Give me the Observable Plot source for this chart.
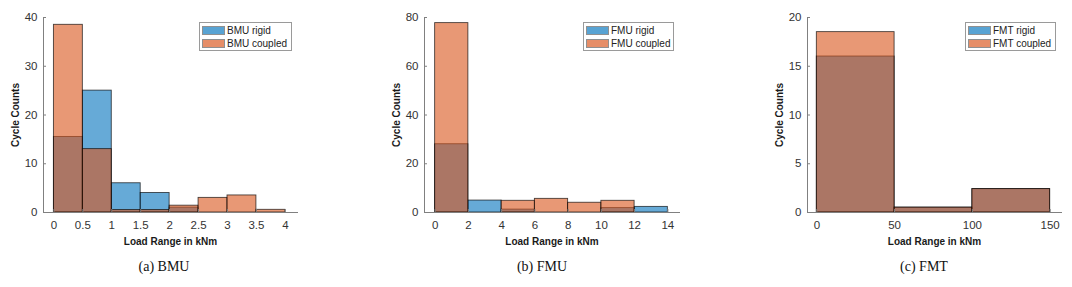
<!DOCTYPE html>
<html>
<head>
<meta charset="utf-8">
<script src="https://cdn.jsdelivr.net/npm/d3@7"></script>
<script src="https://cdn.jsdelivr.net/npm/@observablehq/plot@0.6"></script>
<style>
  body { margin: 0; background: #fff; width: 1072px; height: 287px; position: relative; overflow: hidden; font-family: "Liberation Sans", Arial, sans-serif; }
  .panel { position: absolute; top: 0; }
  .panel svg { overflow: visible; }
  .panel svg g[aria-label="x-axis label"] text,
  .panel svg g[aria-label="y-axis label"] text { font-weight: bold; font-size: 10px; fill: #1a1a1a; }
  .legend { position: absolute; top: 22px; height: 27px; border: 1px solid #9a9a9a; background: #fff; font-size: 10px; color: #222; }
  .legend .row { position: absolute; left: 2px; height: 11px; display: flex; align-items: center; }
  .legend .sw { width: 23px; height: 9px; border: 1px solid #555; margin-right: 2px; box-sizing: border-box; }
  .caption { position: absolute; top: 259px; width: 200px; text-align: center; font-family: "Liberation Serif", "Times New Roman", serif; font-size: 14px; color: #111; }
</style>
</head>
<body>
<script>
// ---- data ----
const bmuEdges = [0, 0.5, 1, 1.5, 2, 2.5, 3, 3.5, 4];
const bmuRigid = [15.5, 25, 6, 4, 1, 0, 0, 0];
const bmuCoupled = [38.5, 13, 0.5, 0.5, 1.4, 3, 3.5, 0.55];
const bmuTicks = [0, 0.5, 1, 1.5, 2, 2.5, 3, 3.5, 4];
const bmuYTicks = [0, 10, 20, 30, 40];

const fmuEdges = [0, 2, 4, 6, 8, 10, 12, 14];
const fmuRigid = [28, 4.9, 1.2, 0, 0, 1.8, 2.3];
const fmuCoupled = [77.7, 0, 4.8, 5.6, 4, 4.8, 0];
const fmuTicks = [0, 2, 4, 6, 8, 10, 12, 14];
const fmuYTicks = [0, 20, 40, 60, 80];

const fmtEdges = [0, 50, 100, 150];
const fmtRigid = [16, 0.5, 2.4];
const fmtCoupled = [18.5, 0.5, 2.4];
const fmtTicks = [0, 50, 100, 150];
const fmtYTicks = [0, 5, 10, 15, 20];

const seriesNames = [["BMU rigid", "BMU coupled"], ["FMU rigid", "FMU coupled"], ["FMT rigid", "FMT coupled"]];
const captions = ["(a) BMU", "(b) FMU", "(c) FMT"];

const BLUE = "#0072BD", ORANGE = "#D95319";

function rows(edges, counts) {
  return counts.map((c, i) => ({x1: edges[i], x2: edges[i + 1], y: c}));
}

const panels = [
  {left: 0, width: 357, ml: 43, mr: 60, xd: [-0.18, 4.21], yd: [0, 40], edges: bmuEdges, rigid: bmuRigid, coupled: bmuCoupled, xt: bmuTicks, yt: bmuYTicks, legLeft: 199, legW: 91, cap: 164},
  {left: 357, width: 357, ml: 67, mr: 35, xd: [-0.64, 14.7], yd: [0, 80], edges: fmuEdges, rigid: fmuRigid, coupled: fmuCoupled, xt: fmuTicks, yt: fmuYTicks, legLeft: 583, legW: 89, cap: 542},
  {left: 714, width: 358, ml: 93, mr: 11, xd: [-6, 157.3], yd: [0, 20], edges: fmtEdges, rigid: fmtRigid, coupled: fmtCoupled, xt: fmtTicks, yt: fmtYTicks, legLeft: 965, legW: 89, cap: 924}
];

panels.forEach((p, idx) => {
  const chart = Plot.plot({
    width: p.width,
    height: 250,
    marginLeft: p.ml,
    marginRight: p.mr,
    marginTop: 17,
    marginBottom: 38,
    style: {fontFamily: "'Liberation Sans', Arial, sans-serif", fontSize: "11.5px", color: "#333", background: "transparent"},
    x: {domain: p.xd},
    y: {domain: p.yd},
    marks: [
      Plot.rectY(rows(p.edges, p.rigid), {x1: "x1", x2: "x2", y: "y", inset: 0, fill: BLUE, fillOpacity: 0.6, stroke: "#000", strokeOpacity: 0.7, strokeWidth: 0.9, filter: d => d.y > 0}),
      Plot.rectY(rows(p.edges, p.coupled), {x1: "x1", x2: "x2", y: "y", inset: 0, fill: ORANGE, fillOpacity: 0.6, stroke: "#000", strokeOpacity: 0.7, strokeWidth: 0.9, filter: d => d.y > 0}),
      Plot.frame({anchor: "left", stroke: "#808080"}),
      Plot.frame({anchor: "bottom", stroke: "#808080"}),
      Plot.axisX({ticks: p.xt, tickFormat: d => String(d), tickSize: -3, tickPadding: 11, stroke: "#808080", label: "Load Range in kNm", labelAnchor: "center", labelArrow: "none", labelOffset: 32}),
      Plot.axisY({ticks: p.yt, tickFormat: d => String(d), tickSize: -3, tickPadding: 9, stroke: "#808080", label: "Cycle Counts", labelAnchor: "center", labelArrow: "none", labelOffset: 32})
    ]
  });
  const div = document.createElement("div");
  div.className = "panel";
  div.style.left = p.left + "px";
  div.appendChild(chart);
  document.body.appendChild(div);

  // legend
  const leg = document.createElement("div");
  leg.className = "legend";
  leg.style.left = p.legLeft + "px";
  leg.style.width = p.legW + "px";
  [[BLUE, seriesNames[idx][0]], [ORANGE, seriesNames[idx][1]]].forEach(([c, name], j) => {
    const r = document.createElement("div");
    r.className = "row";
    r.style.top = (2 + j * 13) + "px";
    const sw = document.createElement("div");
    sw.className = "sw";
    sw.style.background = c;
    sw.style.opacity = 0.65;
    const t = document.createElement("span");
    t.textContent = name;
    r.appendChild(sw);
    r.appendChild(t);
    leg.appendChild(r);
  });
  document.body.appendChild(leg);

  const cap = document.createElement("div");
  cap.className = "caption";
  cap.style.left = (p.cap - 100) + "px";
  cap.textContent = captions[idx];
  document.body.appendChild(cap);
});
</script>
</body>
</html>
